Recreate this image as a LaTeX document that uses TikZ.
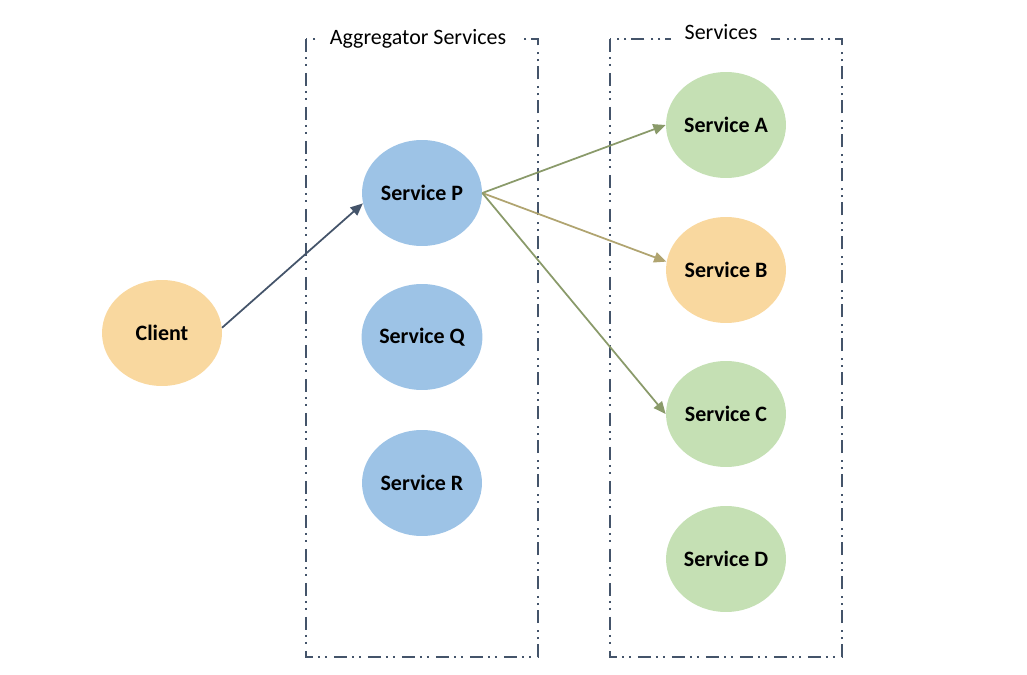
\documentclass[tikz,border=0pt]{standalone}
\usepackage{fontspec}
\setmainfont{Carlito}
\usepackage{tikz}
\usetikzlibrary{positioning, shapes.geometric, arrows.meta}

\definecolor{frameblue}{HTML}{44546A}
\definecolor{svcblue}{HTML}{9DC3E6}
\definecolor{svcorange}{HTML}{F9D89F}
\definecolor{svcgreen}{HTML}{C5E0B4}
\definecolor{linkolive}{HTML}{8A9A6A}
\definecolor{linktan}{HTML}{B0A470}

\begin{document}
\begin{tikzpicture}[x=0.02cm, y=-0.02cm, line cap=butt, line join=miter,
    svc/.style={ellipse, minimum width=2.4cm, minimum height=2.12cm, inner sep=0pt, font=\bfseries\fontsize{12.5}{14}\selectfont},
    groupbox/.style={frameblue, line width=1.3pt, dash pattern=on 0.26cm off 0.1cm on 0.04cm off 0.1cm on 0.04cm off 0.14cm},
    grouplabel/.style={fill=white, inner xsep=8pt, inner ysep=3pt, font=\fontsize{12.5}{14}\selectfont},
    link/.style={-{Triangle[length=7pt, width=6pt]}, line width=1pt, linkolive}]
                \useasboundingbox (0,0) rectangle (1027,675);
                % group frames
                \draw[groupbox] (306,39) rectangle (538,657);
                \draw[groupbox] (610,39) rectangle (842,657);
                \node[grouplabel] (aggLabel) at (418,39) {Aggregator Services};
                \node[grouplabel] (svcLabel) at (721,32) {Services};
                % client
                \node[svc, fill=svcorange] (client) at (162,333) {Client};
                % aggregator services
                \node[svc, fill=svcblue] (svcP) at (422,193) {Service P};
                \node[svc, fill=svcblue] (svcQ) at (422,337) {Service Q};
                \node[svc, fill=svcblue] (svcR) at (422,483) {Service R};
                % backend services
                \node[svc, fill=svcgreen]  (svcA) at (726,125) {Service A};
                \node[svc, fill=svcorange] (svcB) at (726,270) {Service B};
                \node[svc, fill=svcgreen]  (svcC) at (726,414) {Service C};
                \node[svc, fill=svcgreen]  (svcD) at (726,559) {Service D};
                % calls
                \draw[link, frameblue] (client.5) -- (svcP.190);
                \draw[link] (svcP.east) -- (svcA.west);
                \draw[link, linktan] (svcP.east) -- (svcB.172);
                \draw[link] (svcP.east) -- (svcC.west);
        \end{tikzpicture}
\end{document}
